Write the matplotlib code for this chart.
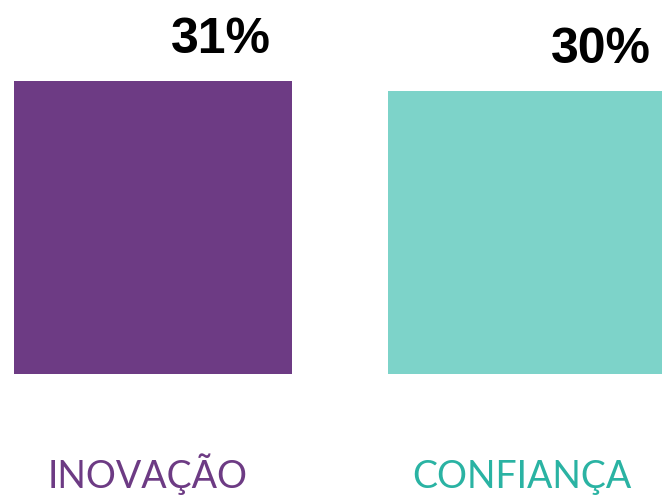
import matplotlib.pyplot as plt

categories = ['INOVAÇÃO', 'CONFIANÇA']
values = [31, 30]
labels = ['31%', '30%']
bar_colors = ['#6D3B84', '#7DD3C9']
text_colors = ['#6D3B84', '#2AB3A3']
label_dx = [68, 74]

fig = plt.figure(figsize=(6.62, 4.96), dpi=100)
ax = fig.add_axes([0, 0, 1, 1])

x = range(len(categories))
ax.bar(x, values, width=0.743, color=bar_colors)

### value labels, up and to the right of each bar top
for i, v in enumerate(values):
    ax.annotate(labels[i], (i, v), xytext=(label_dx[i], 28), textcoords='offset pixels',
                ha='center', va='baseline', fontsize=36, fontweight='bold',
                family='Liberation Sans', color='black')

### category names under the bars
for i, name in enumerate(categories):
    ax.annotate(name, (i, 0), xytext=(-5, -114), textcoords='offset pixels',
                ha='center', va='baseline', fontsize=27, fontweight='normal',
                family='Lato', color=text_colors[i])

ax.set_xlim(-0.409, 1.361)
ax.set_ylim(-12.9, 39.6)
ax.axis('off')

fig.savefig('out.png', dpi=100)
